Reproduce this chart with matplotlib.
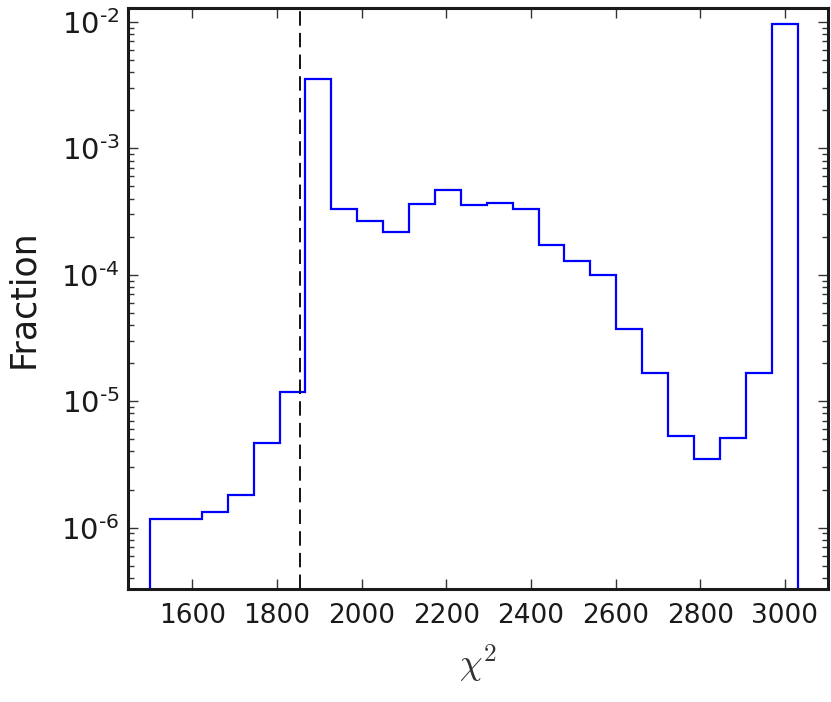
import numpy as np
import matplotlib
matplotlib.use("Agg")
import matplotlib.pyplot as plt
from matplotlib.ticker import LogLocator, FixedLocator, FuncFormatter

# ---- data ----
hist_lo = 1500.0
hist_hi = 3030.0
n_bins = 25
fractions = [1.16e-6, 1.16e-6, 1.33e-6, 1.82e-6, 4.65e-6, 1.175e-5,
             3.54e-3, 3.29e-4, 2.67e-4, 2.16e-4, 3.60e-4, 4.65e-4,
             3.56e-4, 3.71e-4, 3.29e-4, 1.72e-4, 1.28e-4, 9.95e-5,
             3.70e-5, 1.68e-5, 5.31e-6, 3.47e-6, 5.15e-6, 1.66e-5,
             9.6e-3]
threshold = 1854.0
x_ticks = [1600, 1800, 2000, 2200, 2400, 2600, 2800, 3000]

edges = np.linspace(hist_lo, hist_hi, n_bins + 1)

plt.rcParams['font.family'] = ['DejaVu Sans']
plt.rcParams['mathtext.fontset'] = 'dejavusans'
plt.rcParams['axes.unicode_minus'] = False

fig = plt.figure(figsize=(8.31, 7.02), dpi=100)
ax = fig.add_axes([128/831, 1-589/702, (827.7-128)/831, (589-8.3)/702])

ax.set_yscale('log')
ax.stairs(fractions, edges, baseline=1e-12, color='#0000ff', linewidth=1.6)
ax.axvline(threshold, color='black', linewidth=1.3, linestyle=(0, (8, 4)))

ax.set_xlim(1448, 3101)
ax.set_ylim(3.27e-7, 1.28e-2)

ax.xaxis.set_major_locator(FixedLocator(x_ticks))
ax.yaxis.set_major_locator(LogLocator(base=10, numticks=20))
ax.yaxis.set_minor_locator(LogLocator(base=10, subs=np.arange(2, 10), numticks=20))


def log_fmt(v, pos):
    e = int(round(np.log10(v)))
    if e < 0:
        return r'$10^{\text{-}%d}$' % (-e)
    return r'$10^{%d}$' % e


ax.yaxis.set_major_formatter(FuncFormatter(log_fmt))

for s in ax.spines.values():
    s.set_linewidth(2.2)
    s.set_color('#1a1a1a')

ax.tick_params(which='both', direction='in', top=True, right=True, color='#333333', width=1)
ax.tick_params(which='major', length=7)
ax.tick_params(which='minor', length=4.5)
ax.tick_params(axis='x', which='major', labelsize=19, pad=10)
ax.tick_params(axis='y', which='major', labelsize=21, pad=6)
for lab in ax.get_xticklabels() + ax.get_yticklabels():
    lab.set_color('#1a1a1a')

ax.set_xlabel(r'$\chi^2$', fontsize=26, math_fontfamily='cm', labelpad=10, color='#333333')
ax.set_ylabel('Fraction', fontsize=25, labelpad=15, color='#1a1a1a')

fig.savefig('out.png', dpi=100)
